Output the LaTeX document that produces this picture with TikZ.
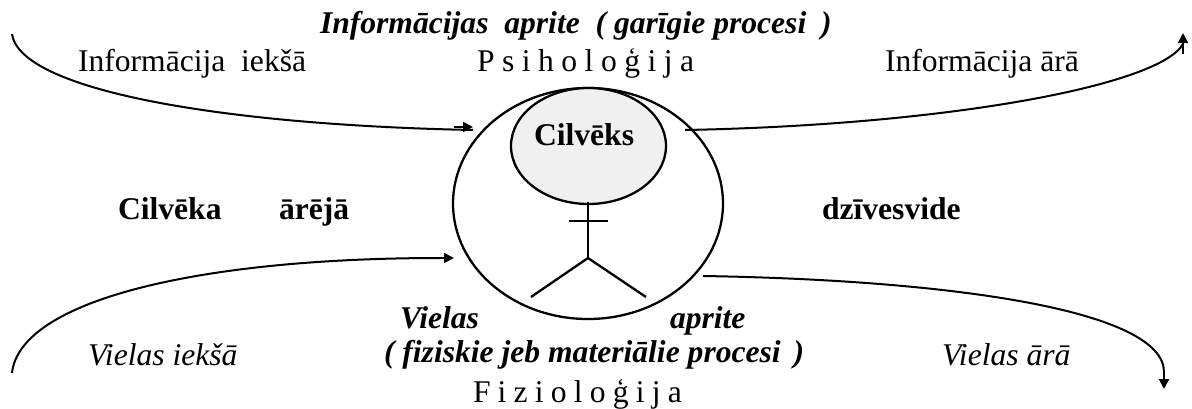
\documentclass[tikz,border=0pt]{standalone}
\usepackage{fontspec}
\setmainfont{Liberation Serif}
\usetikzlibrary{arrows.meta}
\tikzset{
  x=1pt,y=-1pt,
  lbl/.style={anchor=base west,inner sep=0pt,outer sep=0pt,font=\fontsize{31.6}{36}\selectfont},
  bl/.style={lbl,font=\fontsize{31.6}{36}\selectfont\bfseries},
  bi/.style={lbl,font=\fontsize{31.6}{36}\selectfont\bfseries\itshape},
  it/.style={lbl,font=\fontsize{31.6}{36}\selectfont\itshape},
  shp/.style={line width=2.3pt},
  flow/.style={line width=2pt},
  tipline/.style={line width=2pt,-{Stealth[length=10pt,width=10pt,inset=0pt]}},
}
\begin{document}
\begin{tikzpicture}
\useasboundingbox (0,0) rectangle (1192,408);
\fill[white] (0,0) rectangle (1192,408);
% shapes
\coordinate (bigc) at (588,203.5);
\draw[shp] (bigc) ellipse [x radius=135,y radius=115.5];
\coordinate (headc) at (588.5,146);
\draw[shp,fill={rgb,255:red,240;green,240;blue,240}] (headc) ellipse [x radius=77.5,y radius=58];
\coordinate (neck) at (588,202);
\coordinate (hip) at (588,258);
\coordinate (armL) at (569,221);
\coordinate (armR) at (608,221);
\coordinate (legL) at (531,297);
\coordinate (legR) at (646,297);
\draw[shp] (neck) -- (hip);
\draw[shp] (armL) -- (armR);
\draw[shp] (legL) -- (hip) -- (legR);
% connectors
\coordinate (a1) at (12,34);
\coordinate (a2) at (473,130);
\coordinate (a2s) at (454,127);
\coordinate (a2t) at (473,127);
\draw[flow] (a1) .. controls (20,90) and (220,125) .. (a2);
\draw[tipline] (a2s) -- (a2t);
\coordinate (a3) at (685,130);
\coordinate (a4) at (1183,44);
\coordinate (a4s) at (1183,54);
\coordinate (a4t) at (1183,33);
\draw[flow] (a3) .. controls (950,125) and (1160,85) .. (a4);
\draw[tipline] (a4s) -- (a4t);
\coordinate (a5) at (12,373);
\coordinate (a6) at (440,258);
\coordinate (a6t) at (454,258);
\draw[flow] (a5) .. controls (20,300) and (200,258) .. (a6);
\draw[tipline] (a6) -- (a6t);
\coordinate (a7) at (703,276);
\coordinate (a8) at (1164,372);
\coordinate (a8t) at (1164,389);
\draw[flow] (a7) .. controls (950,280) and (1164,310) .. (a8);
\draw[tipline] (a8) -- (a8t);
% text
\node[bi] (t1) at (320,33) {Informācijas\ \ aprite\ \ ( garīgie procesi\kern7pt\ )};
\node[lbl] (t2) at (78,71) {Informācija\ \ iekšā};
\node[lbl] (t3) at (477,71) {\spaceskip=7.5pt P s i h o l o ģ i j a};
\node[lbl] (t4) at (885,71) {Informācija ārā};
\node[bl] (t5) at (534,145) {Cilvēks};
\node[bl] (t6) at (118,219) {Cilvēka};
\node[bl] (t7) at (279,219) {ārējā};
\node[bl] (t8) at (822,219) {dzīvesvide};
\node[bi] (t9) at (400,328) {Vielas};
\node[bi] (t10) at (670,328) {aprite};
\node[bi] (t11) at (384,362) {( fiziskie jeb materiālie procesi\kern5pt\ )};
\node[it] (t12) at (88,365) {Vielas iekšā};
\node[it] (t13) at (942,365) {Vielas ārā};
\node[lbl] (t14) at (473,402) {\spaceskip=7.2pt F i z i o l o ģ i j a};
\end{tikzpicture}
\end{document}
